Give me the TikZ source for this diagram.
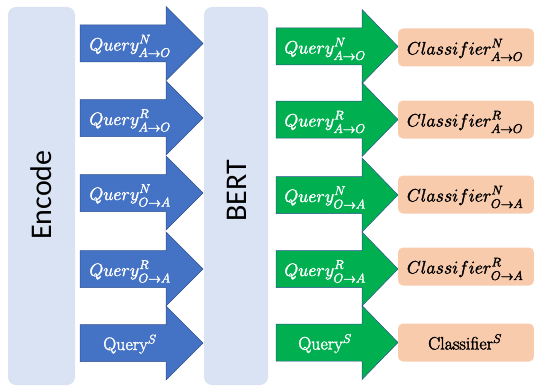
\RequirePackage{fix-cm}
\documentclass[tikz,border=0pt]{standalone}
\usepackage{fontspec}
\newfontfamily\calibri{Carlito}
\definecolor{panel}{HTML}{DAE3F3}
\definecolor{qblue}{HTML}{4472C4}
\definecolor{qedge}{HTML}{2F528F}
\definecolor{qgreen}{HTML}{00B050}
\definecolor{peach}{HTML}{F8CBAD}
\newcommand\heavytext[1]{\special{pdf:literal direct 2 Tr 0.35 w}#1\special{pdf:literal direct 0 Tr}}
\newcommand\qsub[1]{_{\lower2pt\hbox{$\scriptstyle #1$}}}
\newcommand\qsup[1]{^{\raise0.5pt\hbox{$\scriptstyle #1$}}}
\tikzset{
  panelbox/.style={fill=panel, rounded corners=8pt, draw=none, inner sep=0pt},
  paneltext/.style={rotate=90, font=\calibri\fontsize{30}{32}\selectfont, inner sep=0pt},
  bluearrow/.style={fill=qblue, draw=qedge, line width=0.5pt},
  greenarrow/.style={fill=qgreen, draw=qedge, line width=0.5pt},
  qlabel/.style={text=white, anchor=base, inner sep=0pt, font=\fontsize{18}{20}\selectfont},
  clsbox/.style={fill=peach, rounded corners=5pt, draw=none, minimum width=136pt, minimum height=38pt, inner sep=0pt},
  clslabel/.style={text=black, anchor=base, inner sep=0pt, font=\fontsize{18}{20}\selectfont}
}
\begin{document}
\begin{tikzpicture}[x=1pt,y=-1pt]
\useasboundingbox (0,0) rectangle (534,385);
% panels
\node[panelbox, minimum width=67pt, minimum height=378pt] (encbox) at (41.5,196) {};
\node[paneltext] (enctext) at (41,195) {Encode};
\node[panelbox, minimum width=64pt, minimum height=378pt] (bertbox) at (236,196) {};
\node[paneltext] (berttext) at (237,191) {BERT};
% blue arrows
\foreach \c/\lab [count=\i] in {43.5/{$Query\qsup{N}\qsub{A\to O}$}, 118/{$Query\qsup{R}\qsub{A\to O}$}, 193/{$Query\qsup{N}\qsub{O\to A}$}, 269/{$Query\qsup{R}\qsub{O\to A}$}, 343/{Query$^{S}$}}{
  \draw[bluearrow] (80,\c-18.5) -- (166,\c-18.5) -- (166,\c-37) -- (203,\c) -- (166,\c+37) -- (166,\c+18.5) -- (80,\c+18.5) -- cycle;
  \node[qlabel] (bq\i) at (130,\c+7) {\heavytext{\lab}};
}
% green arrows
\foreach \c/\lab [count=\i] in {46.5/{$Query\qsup{N}\qsub{A\to O}$}, 119.5/{$Query\qsup{R}\qsub{A\to O}$}, 195/{$Query\qsup{N}\qsub{O\to A}$}, 269/{$Query\qsup{R}\qsub{O\to A}$}, 342.5/{Query$^{S}$}}{
  \draw[greenarrow] (276,\c-18.5) -- (362,\c-18.5) -- (362,\c-37) -- (398,\c) -- (362,\c+37) -- (362,\c+18.5) -- (276,\c+18.5) -- cycle;
  \node[qlabel] (gq\i) at (325,\c+7) {\heavytext{\lab}};
}
% classifiers
\foreach \c/\lab [count=\i] in {47.5/{$Classifier\qsup{N}\qsub{A\to O}$}, 119.5/{$Classifier\qsup{R}\qsub{A\to O}$}, 194.5/{$Classifier\qsup{N}\qsub{O\to A}$}, 266.5/{$Classifier\qsup{R}\qsub{O\to A}$}, 342.5/{Classifier$^{S}$}}{
  \node[clsbox] (cb\i) at (466,\c) {};
  \node[clslabel] (cl\i) at (465,\c+7) {\heavytext{\lab}};
}
\end{tikzpicture}
\end{document}
